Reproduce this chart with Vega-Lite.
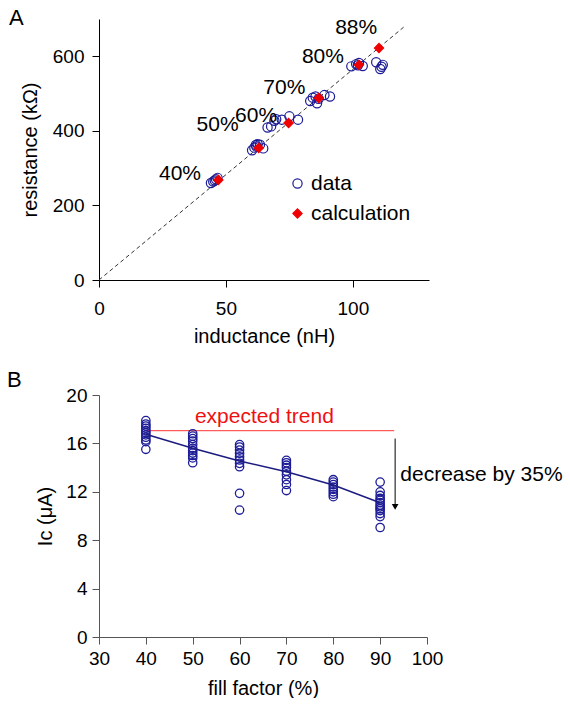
{
  "$schema": "https://vega.github.io/schema/vega-lite/v6.json",
  "padding": {"left": 7, "top": 6, "right": 0, "bottom": 0},
  "spacing": 23,
  "config": {
    "font": "Liberation Sans",
    "view": {"stroke": null},
    "axis": {"grid": false, "labelFlush": false, "labelOverlap": false, "domainColor": "#000", "tickColor": "#000", "labelColor": "#000", "titleColor": "#000", "labelFontSize": 19, "titleFontSize": 20, "titleFontWeight": "normal", "tickSize": 7, "labelPadding": 5, "labelFont": "Liberation Sans", "titleFont": "Liberation Sans", "titlePadding": 10},
    "title": {"fontWeight": "normal", "fontSize": 22, "anchor": "start", "frame": "group", "color": "#000", "font": "Liberation Sans"}
  },
  "vconcat": [
    {
      "width": 330,
      "height": 261,
      "title": {"text": "A", "dx": -90, "offset": -13},
      "encoding": {
        "x": {"field": "inductance", "type": "quantitative", "scale": {"domain": [0, 130], "nice": false}, "axis": {"values": [0, 50, 100], "title": "inductance (nH)", "labelPadding": 12, "titlePadding": 8}},
        "y": {"field": "resistance", "type": "quantitative", "scale": {"domain": [0, 700], "nice": false}, "axis": {"values": [0, 200, 400, 600], "title": "resistance (kΩ)", "labelPadding": 8, "titlePadding": 12}}
      },
      "layer": [
        {
          "data": {"values": [{"inductance": 0, "resistance": 0}, {"inductance": 120, "resistance": 678}]},
          "mark": {"type": "line", "strokeDash": [4, 3], "color": "#333", "strokeWidth": 1}
        },
        {
          "data": {"values": [
            {"inductance": 44.1, "resistance": 260, "series": "data"},
            {"inductance": 45.0, "resistance": 264, "series": "data"},
            {"inductance": 45.6, "resistance": 267, "series": "data"},
            {"inductance": 46.1, "resistance": 270, "series": "data"},
            {"inductance": 46.7, "resistance": 274, "series": "data"},
            {"inductance": 60.3, "resistance": 348, "series": "data"},
            {"inductance": 61.2, "resistance": 355, "series": "data"},
            {"inductance": 61.8, "resistance": 362, "series": "data"},
            {"inductance": 62.0, "resistance": 358, "series": "data"},
            {"inductance": 62.5, "resistance": 364, "series": "data"},
            {"inductance": 63.4, "resistance": 363, "series": "data"},
            {"inductance": 64.7, "resistance": 353, "series": "data"},
            {"inductance": 66.4, "resistance": 409, "series": "data"},
            {"inductance": 67.8, "resistance": 412, "series": "data"},
            {"inductance": 69.1, "resistance": 427, "series": "data"},
            {"inductance": 69.8, "resistance": 431, "series": "data"},
            {"inductance": 72.0, "resistance": 430, "series": "data"},
            {"inductance": 75.0, "resistance": 439, "series": "data"},
            {"inductance": 78.4, "resistance": 430, "series": "data"},
            {"inductance": 83.2, "resistance": 480, "series": "data"},
            {"inductance": 84.2, "resistance": 489, "series": "data"},
            {"inductance": 85.3, "resistance": 492, "series": "data"},
            {"inductance": 85.9, "resistance": 474, "series": "data"},
            {"inductance": 86.5, "resistance": 486, "series": "data"},
            {"inductance": 88.8, "resistance": 496, "series": "data"},
            {"inductance": 91.0, "resistance": 492, "series": "data"},
            {"inductance": 99.4, "resistance": 573, "series": "data"},
            {"inductance": 101.3, "resistance": 579, "series": "data"},
            {"inductance": 102.0, "resistance": 576, "series": "data"},
            {"inductance": 102.4, "resistance": 582, "series": "data"},
            {"inductance": 103.9, "resistance": 574, "series": "data"},
            {"inductance": 109.2, "resistance": 584, "series": "data"},
            {"inductance": 110.8, "resistance": 566, "series": "data"},
            {"inductance": 111.3, "resistance": 572, "series": "data"},
            {"inductance": 111.8, "resistance": 577, "series": "data"},
            {"inductance": 47.0, "resistance": 268, "series": "calculation"},
            {"inductance": 62.9, "resistance": 354, "series": "calculation"},
            {"inductance": 74.7, "resistance": 421, "series": "calculation"},
            {"inductance": 86.6, "resistance": 488, "series": "calculation"},
            {"inductance": 102.4, "resistance": 577, "series": "calculation"},
            {"inductance": 110.3, "resistance": 622, "series": "calculation"}
          ]},
          "mark": {"type": "point", "filled": true, "size": 85, "strokeWidth": 1.2, "opacity": 1},
          "encoding": {
            "shape": {"field": "series", "type": "nominal", "scale": {"domain": ["data", "calculation"], "range": ["circle", "diamond"]},
              "legend": {"orient": "none", "legendX": 188, "legendY": 154, "title": null, "labelFontSize": 21, "labelColor": "#000", "symbolSize": 85, "rowPadding": 8, "labelOffset": 3, "padding": 0, "symbolStrokeWidth": 1.2, "symbolOpacity": 1}},
            "stroke": {"field": "series", "type": "nominal", "scale": {"domain": ["data", "calculation"], "range": ["#1c1c96", "#ee0000"]}},
            "fill": {"field": "series", "type": "nominal", "scale": {"domain": ["data", "calculation"], "range": ["transparent", "#ee0000"]}}
          }
        },
        {
          "data": {"values": [
            {"inductance": 31.9, "resistance": 284, "label": "40%"},
            {"inductance": 46.7, "resistance": 415, "label": "50%"},
            {"inductance": 61.9, "resistance": 440, "label": "60%"},
            {"inductance": 73.0, "resistance": 516, "label": "70%"},
            {"inductance": 88.2, "resistance": 597, "label": "80%"},
            {"inductance": 101.3, "resistance": 677, "label": "88%"}
          ]},
          "mark": {"type": "text", "fontSize": 21, "color": "#000", "align": "center", "baseline": "middle"},
          "encoding": {"text": {"field": "label"}}
        }
      ]
    },
    {
      "width": 328,
      "height": 242,
      "title": {"text": "B", "dx": -92, "offset": -6},
      "encoding": {
        "x": {"field": "ff", "type": "quantitative", "scale": {"domain": [30, 100], "nice": false}, "axis": {"values": [30, 40, 50, 60, 70, 80, 90, 100], "title": "fill factor (%)", "domainColor": "#555", "tickColor": "#555"}},
        "y": {"field": "ic", "type": "quantitative", "scale": {"domain": [0, 20], "nice": false}, "axis": {"values": [0, 4, 8, 12, 16, 20], "title": "Ic (μA)", "titlePadding": 10, "domainColor": "#555", "tickColor": "#555"}}
      },
      "layer": [
        {
          "data": {"values": [{"ff": 40, "ic": 17.05, "ff2": 93}]},
          "mark": {"type": "rule", "color": "#ff3333", "strokeWidth": 1},
          "encoding": {"x2": {"field": "ff2"}}
        },
        {
          "data": {"values": [{"ff": 65.3, "ic": 18.2, "label": "expected trend"}]},
          "mark": {"type": "text", "fontSize": 21, "color": "#ee1111", "align": "center", "baseline": "middle"},
          "encoding": {"text": {"field": "label"}}
        },
        {
          "data": {"values": [
            {"ff": 40, "ic": 17.88}, {"ff": 40, "ic": 17.6}, {"ff": 40, "ic": 17.44}, {"ff": 40, "ic": 17.25}, {"ff": 40, "ic": 17.05}, {"ff": 40, "ic": 16.89}, {"ff": 40, "ic": 16.7}, {"ff": 40, "ic": 16.51}, {"ff": 40, "ic": 16.28}, {"ff": 40, "ic": 16.14}, {"ff": 40, "ic": 15.51},
            {"ff": 50, "ic": 16.8}, {"ff": 50, "ic": 16.6}, {"ff": 50, "ic": 16.4}, {"ff": 50, "ic": 16.2}, {"ff": 50, "ic": 15.9}, {"ff": 50, "ic": 15.6}, {"ff": 50, "ic": 15.4}, {"ff": 50, "ic": 15.2}, {"ff": 50, "ic": 15.0}, {"ff": 50, "ic": 14.8}, {"ff": 50, "ic": 14.4},
            {"ff": 60, "ic": 15.9}, {"ff": 60, "ic": 15.7}, {"ff": 60, "ic": 15.45}, {"ff": 60, "ic": 15.18}, {"ff": 60, "ic": 14.9}, {"ff": 60, "ic": 14.63}, {"ff": 60, "ic": 14.35}, {"ff": 60, "ic": 14.07}, {"ff": 60, "ic": 11.87}, {"ff": 60, "ic": 10.49},
            {"ff": 70, "ic": 14.6}, {"ff": 70, "ic": 14.4}, {"ff": 70, "ic": 14.2}, {"ff": 70, "ic": 14.0}, {"ff": 70, "ic": 13.7}, {"ff": 70, "ic": 13.4}, {"ff": 70, "ic": 13.0}, {"ff": 70, "ic": 12.6}, {"ff": 70, "ic": 12.1},
            {"ff": 80, "ic": 13.0}, {"ff": 80, "ic": 12.8}, {"ff": 80, "ic": 12.6}, {"ff": 80, "ic": 12.4}, {"ff": 80, "ic": 12.2}, {"ff": 80, "ic": 12.0}, {"ff": 80, "ic": 11.8}, {"ff": 80, "ic": 11.6},
            {"ff": 90, "ic": 12.8}, {"ff": 90, "ic": 12.0}, {"ff": 90, "ic": 11.7}, {"ff": 90, "ic": 11.45}, {"ff": 90, "ic": 11.3}, {"ff": 90, "ic": 11.1}, {"ff": 90, "ic": 10.9}, {"ff": 90, "ic": 10.75}, {"ff": 90, "ic": 10.6}, {"ff": 90, "ic": 10.45}, {"ff": 90, "ic": 10.2}, {"ff": 90, "ic": 9.95}, {"ff": 90, "ic": 9.05}
          ]},
          "mark": {"type": "point", "shape": "circle", "filled": false, "size": 70, "strokeWidth": 1.3, "color": "#1c1c96", "opacity": 1}
        },
        {
          "data": {"values": [
            {"ff": 40, "ic": 16.75}, {"ff": 50, "ic": 15.6}, {"ff": 60, "ic": 14.54}, {"ff": 70, "ic": 13.66}, {"ff": 80, "ic": 12.56}, {"ff": 90, "ic": 11.1}
          ]},
          "mark": {"type": "line", "color": "#1c1c80", "strokeWidth": 1.5}
        },
        {
          "data": {"values": [{"ff": 93.2, "ic": 16.4, "ic2": 10.9}]},
          "mark": {"type": "rule", "color": "#000", "strokeWidth": 1},
          "encoding": {"y2": {"field": "ic2"}}
        },
        {
          "data": {"values": [{"ff": 93.2, "ic": 10.75}]},
          "mark": {"type": "point", "shape": "triangle-down", "filled": true, "size": 45, "color": "#000", "opacity": 1}
        },
        {
          "data": {"values": [{"ff": 94.3, "ic": 13.4, "label": "decrease by 35%"}]},
          "mark": {"type": "text", "fontSize": 21, "color": "#000", "align": "left", "baseline": "middle"},
          "encoding": {"text": {"field": "label"}}
        }
      ]
    }
  ]
}
